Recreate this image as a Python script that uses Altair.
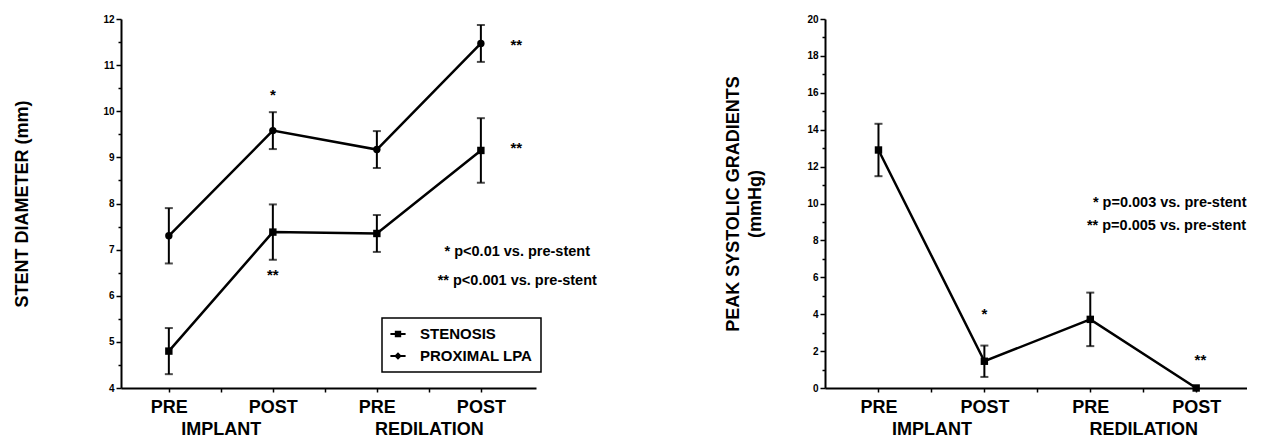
import altair as alt
import pandas as pd

# ---------------- data ----------------
positions = [0, 1, 2, 3]
phase_labels = ["PRE", "POST", "PRE", "POST"]
group_positions = [0.5, 2.5]
group_labels = ["IMPLANT", "REDILATION"]

series_names = ["STENOSIS", "PROXIMAL LPA"]
stenosis_mean = [4.8, 7.38, 7.35, 9.15]
stenosis_err = [0.5, 0.6, 0.4, 0.7]
lpa_mean = [7.3, 9.58, 9.17, 11.47]
lpa_err = [0.6, 0.4, 0.4, 0.4]

gradient_mean = [12.9, 1.45, 3.72, 0.0]
gradient_err = [1.42, 0.85, 1.45, 0.0]

left_y_major_a = [4, 6, 8, 10, 12]
left_y_major_b = [5, 7, 9, 11]
left_y_minor = [4.5, 5.5, 6.5, 7.5, 8.5, 9.5, 10.5, 11.5]
right_y_major_a = [0, 4, 8, 12, 16, 20]
right_y_major_b = [2, 6, 10, 14, 18]
right_y_minor = [1, 3, 5, 7, 9, 11, 13, 15, 17, 19]

left_stars = ["*", "**", "**", "**"]
left_star_x = [1, 1, 3.34, 3.34]
left_star_y = [10.36, 6.46, 11.44, 9.21]
right_stars = ["*", "**"]
right_star_x = [1, 3.04]
right_star_y = [4.0, 1.5]

left_notes = ["* p<0.01 vs. pre-stent", "** p<0.001 vs. pre-stent"]
left_note_x = [3.35, 3.35]
left_note_y = [6.94, 6.31]
right_notes = ["* p=0.003 vs. pre-stent", "** p=0.005 vs. pre-stent"]
right_note_x = [2.75, 2.72]
right_note_y = [10.04, 8.78]

FONT = "Liberation Sans"

# ---------------- tables ----------------
def series_table(name, means, errs):
    return pd.DataFrame({
        "series": name,
        "pos": positions,
        "mean": means,
        "lo": [m - e for m, e in zip(means, errs)],
        "hi": [m + e for m, e in zip(means, errs)],
    })

left_df = pd.concat([series_table(series_names[0], stenosis_mean, stenosis_err),
                     series_table(series_names[1], lpa_mean, lpa_err)], ignore_index=True)
right_df = series_table("GRADIENT", gradient_mean, gradient_err)
right_err_df = right_df[right_df["hi"] > right_df["lo"]]

left_star_df = pd.DataFrame({"x": left_star_x, "y": left_star_y, "t": left_stars})
right_star_df = pd.DataFrame({"x": right_star_x, "y": right_star_y, "t": right_stars})
left_note_df = pd.DataFrame({"x": left_note_x, "y": left_note_y, "t": left_notes})
right_note_df = pd.DataFrame({"x": right_note_x, "y": right_note_y, "t": right_notes})


def ternary(values, labels, default="''"):
    expr = default
    for v, l in reversed(list(zip(values, labels))):
        expr = f"datum.value == {v} ? '{l}' : ({expr})"
    return expr


phase_expr = ternary(positions, phase_labels)
group_expr = ternary(group_positions, group_labels)
x_tick_values = [0, 0.5, 1, 1.5, 2, 2.5, 3]


def build_panel(df, err_df, star_df, note_df, xdomain, ydomain, ymajor_a, ymajor_b, yminor,
                ytitle, title_padding, width, height, shape_enc, legend_layer=None):
    xs = alt.Scale(domain=xdomain, nice=False, zero=False)
    ys = alt.Scale(domain=ydomain, nice=False, zero=False)
    x_axis = alt.Axis(values=x_tick_values, labelExpr=phase_expr, title=None,
                      labelFontSize=18, labelPadding=6, tickSize=4, labelAngle=0,
                      labelOverlap=False)
    y_axis = alt.Axis(values=ymajor_a, title=ytitle, format="d",
                      titlePadding=title_padding, titleFontSize=18, titleLineHeight=22,
                      tickSize=5, labelFontSize=10, labelPadding=2, labelOverlap=False)
    X = alt.X("pos:Q", scale=xs, axis=x_axis)
    base = alt.Chart(df)
    line = base.mark_line(color="black", strokeWidth=2.5).encode(
        x=X, y=alt.Y("mean:Q", scale=ys, axis=y_axis), detail="series:N")
    ebase = alt.Chart(err_df)
    rule = ebase.mark_rule(color="black", strokeWidth=2).encode(
        x="pos:Q", y="lo:Q", y2="hi:Q")
    cap_lo = ebase.mark_tick(color="black", orient="horizontal", size=8, thickness=2).encode(
        x="pos:Q", y="lo:Q")
    cap_hi = ebase.mark_tick(color="black", orient="horizontal", size=8, thickness=2).encode(
        x="pos:Q", y="hi:Q")
    pts = base.mark_point(filled=True, color="black", size=55, opacity=1).encode(
        x="pos:Q", y="mean:Q", shape=shape_enc)
    stars = alt.Chart(star_df).mark_text(font=FONT, fontWeight="bold", fontSize=15,
                                          color="black").encode(x="x:Q", y="y:Q", text="t:N")
    notes = alt.Chart(note_df).mark_text(font=FONT, fontWeight="bold", fontSize=14.5,
                                          color="black").encode(x="x:Q", y="y:Q", text="t:N")
    layers = [line, rule, cap_lo, cap_hi, pts, stars, notes]
    if legend_layer is not None:
        layers.append(legend_layer)
    inner = alt.layer(*layers).resolve_scale(shape="independent")
    group_df = pd.DataFrame({"x": group_positions, "y": [ydomain[0]] * len(group_positions)})
    glabels = alt.Chart(group_df).mark_point(opacity=0).encode(
        x=alt.X("x:Q", scale=xs,
                axis=alt.Axis(values=group_positions, labelExpr=group_expr, orient="bottom",
                              domain=False, ticks=False, labelPadding=32, labelFontSize=18,
                              title=None, labelAngle=0, labelOverlap=False)),
        y=alt.Y("y:Q", scale=ys, axis=None))
    ylabels_b = alt.Chart(group_df).mark_point(opacity=0).encode(
        x=alt.X("x:Q", scale=xs, axis=None),
        y=alt.Y("y:Q", scale=ys,
                axis=alt.Axis(values=ymajor_b, format="d", domain=False, tickSize=5,
                              labelFontSize=10, labelPadding=2, title=None, orient="left",
                              labelOverlap=False)))
    yminor_ticks = alt.Chart(group_df).mark_point(opacity=0).encode(
        x=alt.X("x:Q", scale=xs, axis=None),
        y=alt.Y("y:Q", scale=ys,
                axis=alt.Axis(values=yminor, labels=False, domain=False, tickSize=3,
                              title=None, orient="left")))
    return alt.layer(inner, glabels, ylabels_b, yminor_ticks).resolve_axis(
        x="independent", y="independent").properties(width=width, height=height)


# left panel
left_shape = alt.Shape("series:N", scale=alt.Scale(domain=series_names, range=["square", "circle"]),
                       legend=None)
legend_layer = alt.Chart(left_df).transform_filter("false").mark_point(
    filled=True, fill="black", stroke="black", strokeWidth=0, opacity=1).encode(
    x="pos:Q", y="mean:Q",
    shape=alt.Shape("series:N",
                    scale=alt.Scale(domain=series_names,
                                    range=["M-1,-0.12L1,-0.12L1,0.12L-1,0.12Z"
                                           "M-0.42,-0.42L0.42,-0.42L0.42,0.42L-0.42,0.42Z",
                                           "M-1,-0.12L1,-0.12L1,0.12L-1,0.12Z"
                                           "M0,-0.5L0.5,0L0,0.5L-0.5,0Z"]),
                    legend=alt.Legend(title=None, orient="none", legendX=261, legendY=299,
                                      strokeColor="black", padding=8, rowPadding=6,
                                      labelFont=FONT, labelFontWeight="bold", labelFontSize=15,
                                      labelColor="black", labelOffset=14, symbolSize=230,
                                      symbolFillColor="black", symbolStrokeColor="black",
                                      symbolStrokeWidth=0, symbolOpacity=1)))

left = build_panel(left_df, left_df, left_star_df, left_note_df, [-0.46, 3.53], [4, 12],
                   left_y_major_a, left_y_major_b, left_y_minor,
                   "STENT DIAMETER (mm)", 71, 415, 369, left_shape, legend_layer)

right_shape = alt.value("square")
right = build_panel(right_df, right_err_df, right_star_df, right_note_df, [-0.505, 3.48], [0, 20],
                    right_y_major_a, right_y_major_b, right_y_minor,
                    ["PEAK SYSTOLIC GRADIENTS", "(mmHg)"], 42, 422, 369, right_shape)

chart = alt.hconcat(left, right, spacing=289, bounds="flush").properties(
    padding={"left": 5, "top": 6, "right": 0, "bottom": 0}
).configure_view(stroke=None).configure_axis(
    grid=False, domainColor="black", domainWidth=2, tickColor="black", tickWidth=1.5,
    labelFont=FONT, labelFontWeight="bold", labelColor="black",
    titleFont=FONT, titleFontWeight="bold", titleColor="black"
).configure_legend(strokeWidth=1.5)

chart.save("out.html", embed_options={"renderer": "svg", "actions": False})
